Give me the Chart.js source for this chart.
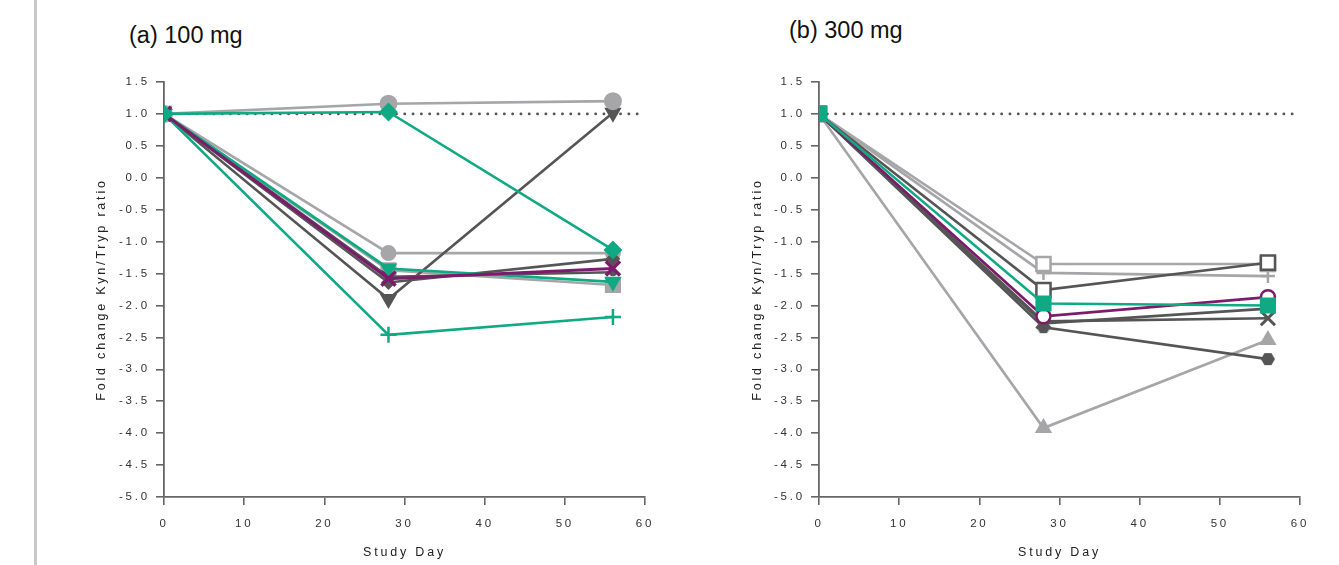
<!DOCTYPE html>
<html><head><meta charset="utf-8">
<script src="https://cdn.jsdelivr.net/npm/chart.js@4"></script>
<style>
body{margin:0;background:#fff;width:1339px;height:565px;overflow:hidden;position:relative;font-family:"Liberation Sans",Arial,sans-serif}
#bar{position:absolute;left:34px;top:0;width:3px;height:565px;background:#c9c9c9}
.t{position:absolute;font-size:23.5px;color:#111;line-height:28px}
#c1{position:absolute;left:0;top:0}
#c2{position:absolute;left:680px;top:0}
</style></head><body>
<div id="bar"></div>
<div class="t" style="left:129px;top:21px">(a) 100 mg</div>
<div class="t" style="left:789px;top:16px">(b) 300 mg</div>
<canvas id="c1" width="680" height="565"></canvas>
<canvas id="c2" width="659" height="565"></canvas>
<script>
// ---- data ----
const days = [0, 28, 56];
const refDays = [0, 60];
const refValues = [1.0, 1.0];

// (a) 100 mg
const a_grayCircleHigh = [1.0, 1.16, 1.2];
const a_grayCircleLow  = [1.0, -1.18, -1.18];
const a_graySquare     = [1.0, -1.45, -1.68];
const a_darkTriDown    = [1.0, -1.9, 1.02];
const a_darkLineA      = [1.0, -1.64, -1.27];
const a_darkLineB      = [1.0, -1.55, -1.48];
const a_greenDiamond   = [1.0, 1.03, -1.13];
const a_greenTriDown   = [1.0, -1.42, -1.63];
const a_greenPlus      = [1.0, -2.46, -2.18];
const a_purpleX        = [1.0, -1.58, -1.42];

// (b) 300 mg
const b_grayOpenSquare = [1.0, -1.35, -1.35];
const b_grayPlus       = [1.0, -1.49, -1.54];
const b_grayTriangle   = [1.0, -3.92, -2.54];
const b_darkOpenSquare = [1.0, -1.76, -1.33];
const b_darkX          = [1.0, -2.25, -2.2];
const b_darkHex        = [1.0, -2.34, -2.84];
const b_darkLine       = [1.0, -2.28, -2.05];
const b_greenSquare    = [1.0, -1.97, -2.0];
const b_purpleCircle   = [1.0, -2.17, -1.87];

const yMin = -5.0, yMax = 1.5, yStep = 0.5;
const xMin = 0, xMax = 60, xStep = 10;
const yTitle = 'Fold change Kyn/Tryp ratio';
const xTitle = 'Study Day';

// ---- styles ----
const LG = '#a6a6a9', DG = '#555555', GR = '#0fa983', PU = '#7a1c6b';
const FONT = '"Liberation Sans", Arial, sans-serif';

function hexImg(color, r){
  const c = document.createElement('canvas');
  c.width = c.height = r*2+2;
  const x = c.getContext('2d');
  x.fillStyle = color;
  x.beginPath();
  for(let i=0;i<6;i++){
    const a = Math.PI/3*i;
    const px = r+1 + r*Math.cos(a), py = r+1 + r*Math.sin(a);
    if(i===0) x.moveTo(px,py); else x.lineTo(px,py);
  }
  x.closePath(); x.fill();
  return c;
}

const pts = (xs, ys) => xs.map((d,i)=>({x:d, y:ys[i]}));

function ds(vals, color, style, radius, opts){
  return Object.assign({
    data: pts(days, vals),
    borderColor: color,
    backgroundColor: color,
    pointBackgroundColor: color,
    pointBorderColor: color,
    borderWidth: 2.6,
    pointStyle: style,
    pointRadius: radius,
    pointBorderWidth: 2,
    pointHoverRadius: radius,
    tension: 0
  }, opts||{});
}

function refDs(){
  return {
    data: pts(refDays, refValues),
    borderColor: '#555',
    borderWidth: 2.8,
    borderDash: [0.1, 8.2],
    borderCapStyle: 'round',
    pointRadius: 0,
    order: 100
  };
}

const LS = '2.8px';
const spacing = {
  id:'spacing',
  beforeUpdate(c){ c.ctx.letterSpacing = LS; },
  beforeDraw(c){ c.ctx.letterSpacing = LS; },
  beforeDatasetsDraw(c){ c.ctx.letterSpacing = '0px'; }
};

function makeOptions(padLeft, yWidth, padRight){
  return {
    responsive: false,
    animation: false,
    events: [],
    layout: { padding: { left: padLeft, top: 82, right: padRight, bottom: 0 } },
    plugins: { legend: { display: false }, tooltip: { enabled: false } },
    scales: {
      x: {
        type: 'linear', min: xMin, max: xMax,
        ticks: { stepSize: xStep, color: '#333', padding: 12, font: { family: FONT, size: 11.5 }, maxRotation: 0 },
        grid: { drawOnChartArea: false, drawTicks: true, tickLength: 8, color: '#666', lineWidth: 1.6 },
        border: { color: '#666', width: 1.8 },
        title: { display: true, text: xTitle, color: '#222', font: { family: FONT, size: 12.5 }, padding: { top: 0, bottom: 5 } },
        afterFit: s => { s.height = 68; }
      },
      y: {
        type: 'linear', min: yMin, max: yMax,
        ticks: { stepSize: yStep, color: '#333', padding: 6, font: { family: FONT, size: 11.5 }, callback: v => Number(v).toFixed(1) },
        grid: { drawOnChartArea: false, drawTicks: true, tickLength: 8, color: '#666', lineWidth: 1.6 },
        border: { color: '#666', width: 1.8 },
        title: { display: true, text: yTitle, color: '#222', font: { family: FONT, size: 12.5 }, padding: { top: 5, bottom: 0 } },
        afterFit: s => { s.width = yWidth; }
      }
    }
  };
}

const hexDG = hexImg(DG, 7);

// Chart.js draws the first dataset on top, so the topmost series come first.
new Chart(document.getElementById('c1'), {
  type: 'line',
  data: { datasets: [
    refDs(),
    ds(a_greenDiamond, GR, 'rectRot', 8),
    ds(a_purpleX, PU, 'crossRot', 10, { pointBorderWidth: 3.5, borderWidth: 3 }),
    ds(a_greenTriDown, GR, 'triangle', 8, { pointRotation: 180 }),
    ds(a_greenPlus, GR, 'cross', 8, { pointBorderWidth: 2.5 }),
    ds(a_grayCircleHigh, LG, 'circle', 8),
    ds(a_darkTriDown, DG, 'triangle', 8, { pointRotation: 180 }),
    ds(a_darkLineA, DG, 'rectRot', 6),
    ds(a_darkLineB, DG, 'circle', 3),
    ds(a_grayCircleLow, LG, 'circle', 7),
    ds(a_graySquare, LG, 'rect', 10)
  ]},
  options: makeOptions(89, 75, 35),
  plugins: [spacing]
});

new Chart(document.getElementById('c2'), {
  type: 'line',
  data: { datasets: [
    refDs(),
    ds(b_greenSquare, GR, 'rect', 10),
    ds(b_purpleCircle, PU, 'circle', 7, { pointBackgroundColor: '#fff', pointBorderWidth: 2.5 }),
    ds(b_darkOpenSquare, DG, 'rect', 10, { pointBackgroundColor: '#fff', pointBorderWidth: 2.5 }),
    ds(b_darkX, DG, 'crossRot', 10, { pointBorderWidth: 3 }),
    ds(b_darkLine, DG, 'circle', 3),
    ds(b_darkHex, DG, hexDG, 7),
    ds(b_grayOpenSquare, LG, 'rect', 10, { pointBackgroundColor: '#fff', pointBorderWidth: 2.5 }),
    ds(b_grayPlus, LG, 'cross', 7, { pointBorderWidth: 2.5 }),
    ds(b_grayTriangle, LG, 'triangle', 8)
  ]},
  options: makeOptions(65, 74, 39),
  plugins: [spacing]
});
</script>
</body></html>
